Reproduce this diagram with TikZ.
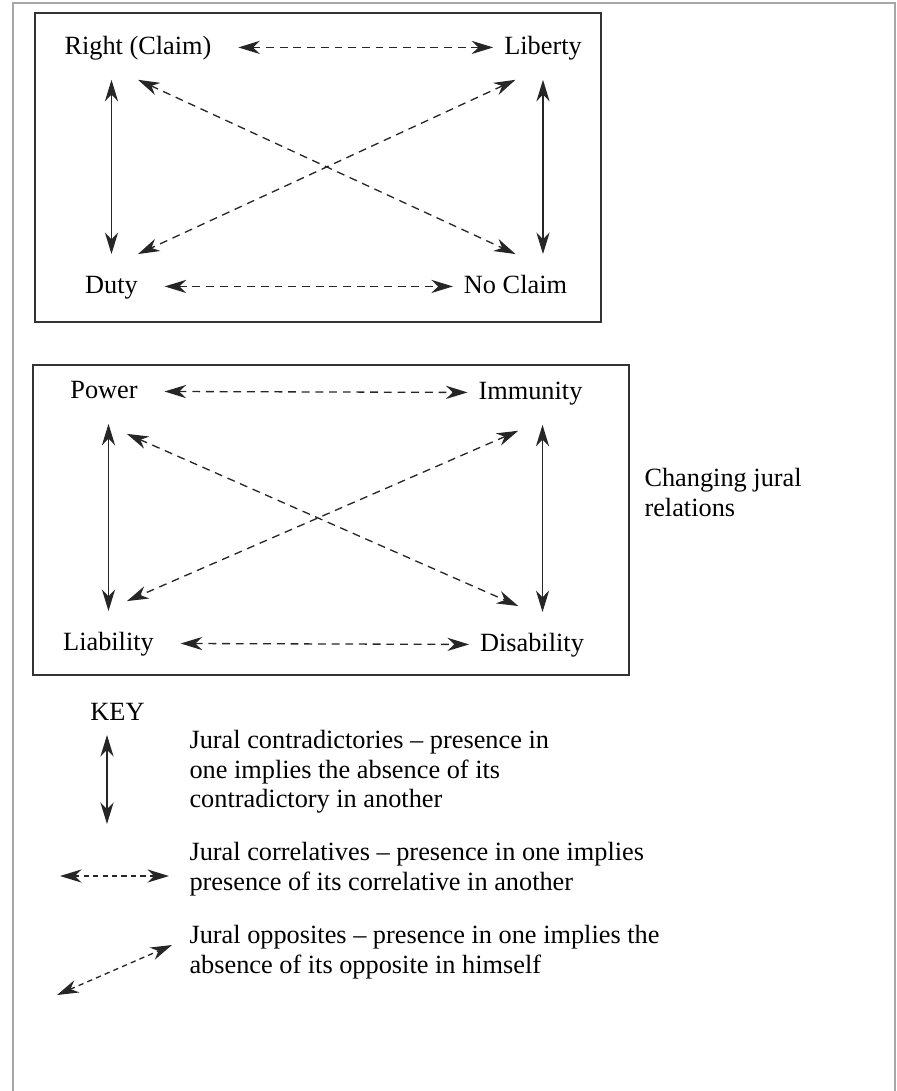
\documentclass[tikz,border=0pt]{standalone}
\usepackage{fontspec}
\setmainfont{Liberation Serif}
\usetikzlibrary{arrows.meta}

\tikzset{
    lbl/.style={inner xsep=4pt, inner ysep=7.6pt, text height=7pt, text depth=2pt, anchor=base},
    contra/.style={{Stealth[length=8.2pt,width=5pt,inset=2.6pt]}-{Stealth[length=8.2pt,width=5pt,inset=2.6pt]}, line width=0.5pt, black!85},
    corr/.style={contra, dash pattern=on 3pt off 2.2pt, shorten <=6pt},
    oppo/.style={contra, dash pattern=on 3pt off 2.2pt},
    box/.style={draw=black!80, line width=0.7pt},
    keytext/.style={align=left, anchor=north west, inner sep=0pt, font=\fontsize{10pt}{11.2pt}\selectfont}
}

\begin{document}
\begin{tikzpicture}[x=0.38pt, y=-0.38pt]
        \useasboundingbox (0, 0) rectangle (897, 1091);
        \draw[gray!70, line width=0.4pt] (13, 1091) -- (13, 3) -- (895, 3) -- (895, 1091);

        \draw[box] (35, 13) rectangle (601, 322);
        \node[lbl] at (138, 54) (rc) {Right (Claim)};
        \node[lbl] at (543, 54) (li) {Liberty};
        \node[lbl] at (111.5, 293) (du) {Duty};
        \node[lbl] at (515.5, 293) (nc) {No Claim};
        \draw[corr] (rc.east) -- (li.west);
        \draw[corr] (du.east) -- (nc.west);
        \draw[contra] (du.north |- rc.south) -- (du.north);
        \draw[contra] (li.south) -- (li.south |- nc.north);
        \draw[oppo] (rc.south) -- (nc.north);
        \draw[oppo] (nc.north |- li.south) -- (rc.south |- du.north);

        \draw[box] (33, 365) rectangle (629, 675);
        \node[lbl] at (104, 398) (pw) {Power};
        \node[lbl] at (530.5, 399) (im) {Immunity};
        \node[lbl] at (108.5, 650) (lb) {Liability};
        \node[lbl] at (532, 651) (ds) {Disability};
        \draw[corr] (pw.east) -- (im.west);
        \draw[corr] (lb.east) -- (ds.west);
        \draw[contra] (lb.north |- pw.south) -- (lb.north);
        \draw[contra] ([xshift=4pt]ds.north |- im.south) -- ([xshift=4pt]ds.north);
        \draw[oppo, shorten <=9.5pt, shorten >=5.7pt] (pw.south) -- (ds.north);
        \draw[oppo, shorten <=5.7pt, shorten >=9.5pt] (ds.north |- im.south) -- (pw.south |- lb.north);
        \node[keytext] at (644, 468) (cj) {Changing jural\\relations};

        \node[lbl] at (117.5, 720) (key) {KEY};
        \coordinate (ka) at (107, 735);
        \coordinate (kb) at (107, 824);
        \coordinate (kc) at (60, 876);
        \coordinate (kd) at (169, 876);
        \coordinate (ke) at (57, 995);
        \coordinate (kf) at (172, 945);
        \draw[contra] (ka) -- (kb);
        \draw[oppo, dash pattern=on 2pt off 1.6pt] (kc) -- (kd);
        \draw[oppo, dash pattern=on 2pt off 1.6pt] (ke) -- (kf);
        \node[keytext] at (189, 730) (t1) {Jural contradictories -- presence in\\one implies the absence of its\\contradictory in another};
        \node[keytext] at (189, 842) (t2) {Jural correlatives -- presence in one implies\\presence of its correlative in another};
        \node[keytext] at (189, 925) (t3) {Jural opposites -- presence in one implies the\\absence of its opposite in himself};
    \end{tikzpicture}
\end{document}
